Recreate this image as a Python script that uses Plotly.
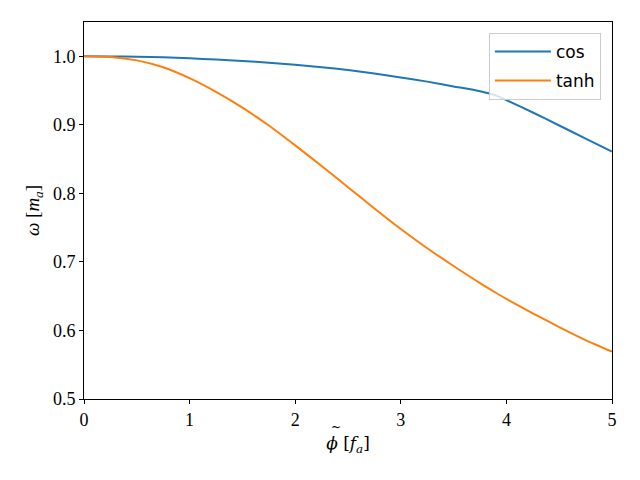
import plotly.graph_objects as go

phi = [0, 0.25, 0.5, 0.75, 1.0, 1.25, 1.5, 1.75, 2.0, 2.25, 2.5, 2.75, 3.0,
       3.25, 3.5, 3.75, 3.9, 4.0, 4.25, 4.5, 4.75, 5.0]
omega_cos = [1.000, 0.9998, 0.9993, 0.9984, 0.997, 0.9953, 0.9932, 0.9905, 0.9875,
             0.984, 0.980, 0.975, 0.969, 0.963, 0.956, 0.949, 0.943, 0.936,
             0.918, 0.899, 0.880, 0.861]
omega_tanh = [1.000, 0.999, 0.994, 0.984, 0.968, 0.948, 0.925, 0.899, 0.870,
              0.840, 0.809, 0.778, 0.748, 0.720, 0.694, 0.669, 0.655, 0.646,
              0.625, 0.605, 0.586, 0.569]
x_ticks = [0, 1, 2, 3, 4, 5]
y_ticks = [0.5, 0.6, 0.7, 0.8, 0.9, 1.0]

fig = go.Figure()
fig.add_trace(go.Scatter(x=phi, y=omega_cos, mode="lines", name="cos", legendgroup="a",
                         line=dict(color="#1f77b4", width=2, shape="spline", smoothing=0.6)))
fig.add_trace(go.Scatter(x=phi, y=omega_tanh, mode="lines", name="tanh", legendgroup="b",
                         line=dict(color="#ff7f0e", width=2, shape="spline", smoothing=0.6)))

axis_common = dict(showline=True, linecolor="black", linewidth=1, mirror=True,
                   ticks="outside", ticklen=4, tickcolor="black", showgrid=False,
                   zeroline=False, tickfont=dict(family="Liberation Serif", size=18, color="black"))

fig.update_layout(
    width=632, height=472,
    margin=dict(l=76, r=28, t=14, b=81),
    plot_bgcolor="white", paper_bgcolor="white",
    xaxis=dict(range=[0, 5], tickvals=x_ticks, ticktext=[str(v) for v in x_ticks],
               title=dict(text="<i>ϕ</i> [<i>f</i><sub><i>a</i></sub>]",
                          font=dict(family="DejaVu Serif", size=17, color="black"),
                          standoff=8),
               **axis_common),
    yaxis=dict(range=[0.5, 1.05], tickvals=y_ticks, ticktext=[f"{v:.1f}" for v in y_ticks],
               title=dict(text="<i>ω</i> [<i>m</i><sub><i>a</i></sub>]",
                          font=dict(family="Liberation Serif", size=19, color="black"),
                          standoff=8),
               **axis_common),
    legend=dict(x=0.979, y=0.971, xanchor="right", yanchor="top",
                bgcolor="rgba(255,255,255,0.8)", bordercolor="#cccccc", borderwidth=1,
                traceorder="grouped", tracegroupgap=4, itemwidth=56,
                font=dict(family="DejaVu Sans", size=17, color="black")),
    showlegend=True,
    annotations=[dict(text="~", xref="paper", yref="paper", x=0.478, y=-0.074,
                      xanchor="center", yanchor="middle", showarrow=False,
                      font=dict(family="DejaVu Serif", size=12, color="black"))],
)

fig.write_html("out.html")
